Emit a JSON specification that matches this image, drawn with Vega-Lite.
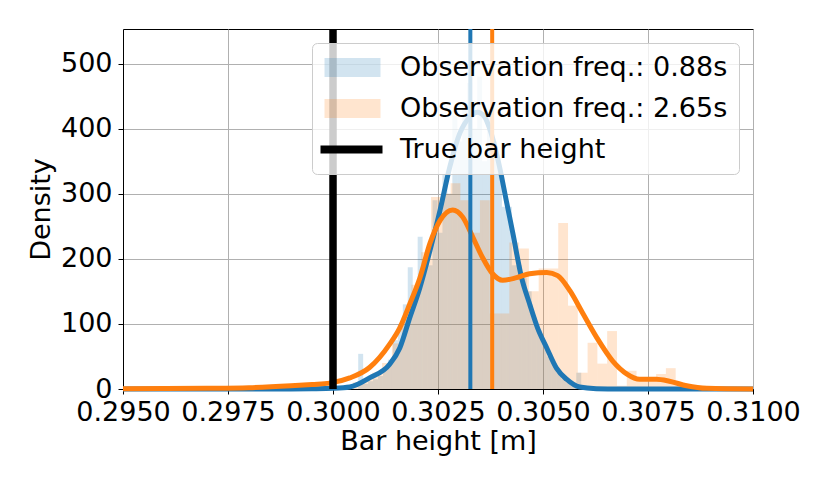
{
  "$schema": "https://vega.github.io/schema/vega-lite/v6.json",
  "width": 630,
  "height": 360,
  "autosize": {"type": "none"},
  "padding": {"left": 123, "top": 29, "right": 77, "bottom": 100},
  "background": "white",
  "datasets": {
    "hist": [
      {"series": "Observation freq.: 0.88s", "start": 0.300600, "end": 0.300718, "density": 54},
      {"series": "Observation freq.: 0.88s", "start": 0.300718, "end": 0.300836, "density": 8},
      {"series": "Observation freq.: 0.88s", "start": 0.300836, "end": 0.300954, "density": 12},
      {"series": "Observation freq.: 0.88s", "start": 0.300954, "end": 0.301072, "density": 15},
      {"series": "Observation freq.: 0.88s", "start": 0.301072, "end": 0.301190, "density": 20},
      {"series": "Observation freq.: 0.88s", "start": 0.301190, "end": 0.301308, "density": 30},
      {"series": "Observation freq.: 0.88s", "start": 0.301308, "end": 0.301426, "density": 45},
      {"series": "Observation freq.: 0.88s", "start": 0.301426, "end": 0.301544, "density": 75},
      {"series": "Observation freq.: 0.88s", "start": 0.301544, "end": 0.301662, "density": 100},
      {"series": "Observation freq.: 0.88s", "start": 0.301662, "end": 0.301780, "density": 130},
      {"series": "Observation freq.: 0.88s", "start": 0.301780, "end": 0.301898, "density": 187},
      {"series": "Observation freq.: 0.88s", "start": 0.301898, "end": 0.302016, "density": 150},
      {"series": "Observation freq.: 0.88s", "start": 0.302016, "end": 0.302134, "density": 234},
      {"series": "Observation freq.: 0.88s", "start": 0.302134, "end": 0.302252, "density": 200},
      {"series": "Observation freq.: 0.88s", "start": 0.302252, "end": 0.302370, "density": 190},
      {"series": "Observation freq.: 0.88s", "start": 0.302370, "end": 0.302488, "density": 290},
      {"series": "Observation freq.: 0.88s", "start": 0.302488, "end": 0.302606, "density": 240},
      {"series": "Observation freq.: 0.88s", "start": 0.302606, "end": 0.302724, "density": 330},
      {"series": "Observation freq.: 0.88s", "start": 0.302724, "end": 0.302842, "density": 300},
      {"series": "Observation freq.: 0.88s", "start": 0.302842, "end": 0.302960, "density": 420},
      {"series": "Observation freq.: 0.88s", "start": 0.302960, "end": 0.303078, "density": 380},
      {"series": "Observation freq.: 0.88s", "start": 0.303078, "end": 0.303196, "density": 440},
      {"series": "Observation freq.: 0.88s", "start": 0.303196, "end": 0.303314, "density": 470},
      {"series": "Observation freq.: 0.88s", "start": 0.303314, "end": 0.303432, "density": 400},
      {"series": "Observation freq.: 0.88s", "start": 0.303432, "end": 0.303550, "density": 480},
      {"series": "Observation freq.: 0.88s", "start": 0.303550, "end": 0.303668, "density": 350},
      {"series": "Observation freq.: 0.88s", "start": 0.303668, "end": 0.303786, "density": 420},
      {"series": "Observation freq.: 0.88s", "start": 0.303786, "end": 0.303904, "density": 380},
      {"series": "Observation freq.: 0.88s", "start": 0.303904, "end": 0.304022, "density": 340},
      {"series": "Observation freq.: 0.88s", "start": 0.304022, "end": 0.304140, "density": 280},
      {"series": "Observation freq.: 0.88s", "start": 0.304140, "end": 0.304258, "density": 280},
      {"series": "Observation freq.: 0.88s", "start": 0.304258, "end": 0.304376, "density": 190},
      {"series": "Observation freq.: 0.88s", "start": 0.304376, "end": 0.304494, "density": 190},
      {"series": "Observation freq.: 0.88s", "start": 0.304494, "end": 0.304612, "density": 170},
      {"series": "Observation freq.: 0.88s", "start": 0.304612, "end": 0.304730, "density": 150},
      {"series": "Observation freq.: 0.88s", "start": 0.304730, "end": 0.304848, "density": 110},
      {"series": "Observation freq.: 0.88s", "start": 0.304848, "end": 0.304966, "density": 90},
      {"series": "Observation freq.: 0.88s", "start": 0.304966, "end": 0.305084, "density": 70},
      {"series": "Observation freq.: 0.88s", "start": 0.305084, "end": 0.305202, "density": 50},
      {"series": "Observation freq.: 0.88s", "start": 0.305202, "end": 0.305320, "density": 40},
      {"series": "Observation freq.: 0.88s", "start": 0.305320, "end": 0.305438, "density": 25},
      {"series": "Observation freq.: 0.88s", "start": 0.305438, "end": 0.305556, "density": 15},
      {"series": "Observation freq.: 0.88s", "start": 0.305556, "end": 0.305674, "density": 10},
      {"series": "Observation freq.: 0.88s", "start": 0.305674, "end": 0.305792, "density": 5},
      {"series": "Observation freq.: 0.88s", "start": 0.305792, "end": 0.305910, "density": 25},
      {"series": "Observation freq.: 0.88s", "start": 0.305910, "end": 0.306028, "density": 3},
      {"series": "Observation freq.: 2.65s", "start": 0.300470, "end": 0.300703, "density": 10},
      {"series": "Observation freq.: 2.65s", "start": 0.300703, "end": 0.300936, "density": 15},
      {"series": "Observation freq.: 2.65s", "start": 0.300936, "end": 0.301169, "density": 25},
      {"series": "Observation freq.: 2.65s", "start": 0.301169, "end": 0.301402, "density": 40},
      {"series": "Observation freq.: 2.65s", "start": 0.301402, "end": 0.301635, "density": 70},
      {"series": "Observation freq.: 2.65s", "start": 0.301635, "end": 0.301868, "density": 110},
      {"series": "Observation freq.: 2.65s", "start": 0.301868, "end": 0.302101, "density": 160},
      {"series": "Observation freq.: 2.65s", "start": 0.302101, "end": 0.302334, "density": 210},
      {"series": "Observation freq.: 2.65s", "start": 0.302334, "end": 0.302567, "density": 295},
      {"series": "Observation freq.: 2.65s", "start": 0.302567, "end": 0.302800, "density": 300},
      {"series": "Observation freq.: 2.65s", "start": 0.302800, "end": 0.303033, "density": 316},
      {"series": "Observation freq.: 2.65s", "start": 0.303033, "end": 0.303266, "density": 290},
      {"series": "Observation freq.: 2.65s", "start": 0.303266, "end": 0.303499, "density": 240},
      {"series": "Observation freq.: 2.65s", "start": 0.303499, "end": 0.303732, "density": 290},
      {"series": "Observation freq.: 2.65s", "start": 0.303732, "end": 0.303965, "density": 116},
      {"series": "Observation freq.: 2.65s", "start": 0.303965, "end": 0.304198, "density": 116},
      {"series": "Observation freq.: 2.65s", "start": 0.304198, "end": 0.304431, "density": 225},
      {"series": "Observation freq.: 2.65s", "start": 0.304431, "end": 0.304664, "density": 216},
      {"series": "Observation freq.: 2.65s", "start": 0.304664, "end": 0.304897, "density": 150},
      {"series": "Observation freq.: 2.65s", "start": 0.304897, "end": 0.305130, "density": 185},
      {"series": "Observation freq.: 2.65s", "start": 0.305130, "end": 0.305363, "density": 185},
      {"series": "Observation freq.: 2.65s", "start": 0.305363, "end": 0.305596, "density": 255},
      {"series": "Observation freq.: 2.65s", "start": 0.305596, "end": 0.305829, "density": 128},
      {"series": "Observation freq.: 2.65s", "start": 0.305829, "end": 0.306062, "density": 25},
      {"series": "Observation freq.: 2.65s", "start": 0.306062, "end": 0.306295, "density": 71},
      {"series": "Observation freq.: 2.65s", "start": 0.306295, "end": 0.306528, "density": 39},
      {"series": "Observation freq.: 2.65s", "start": 0.306528, "end": 0.306761, "density": 89},
      {"series": "Observation freq.: 2.65s", "start": 0.306761, "end": 0.306994, "density": 5},
      {"series": "Observation freq.: 2.65s", "start": 0.306994, "end": 0.307227, "density": 28},
      {"series": "Observation freq.: 2.65s", "start": 0.307227, "end": 0.307460, "density": 12},
      {"series": "Observation freq.: 2.65s", "start": 0.307460, "end": 0.307693, "density": 12},
      {"series": "Observation freq.: 2.65s", "start": 0.307693, "end": 0.307926, "density": 23},
      {"series": "Observation freq.: 2.65s", "start": 0.307926, "end": 0.308159, "density": 32},
      {"series": "Observation freq.: 2.65s", "start": 0.308159, "end": 0.308392, "density": 6}
    ],
    "kde": [
      {"series": "fast", "x": 0.2950, "density": 0},
      {"series": "fast", "x": 0.2990, "density": 0},
      {"series": "fast", "x": 0.2995, "density": 0.3},
      {"series": "fast", "x": 0.3000, "density": 1},
      {"series": "fast", "x": 0.3004, "density": 3},
      {"series": "fast", "x": 0.30087, "density": 17},
      {"series": "fast", "x": 0.30135, "density": 38},
      {"series": "fast", "x": 0.30159, "density": 63},
      {"series": "fast", "x": 0.30183, "density": 110},
      {"series": "fast", "x": 0.30207, "density": 156},
      {"series": "fast", "x": 0.30231, "density": 213},
      {"series": "fast", "x": 0.30255, "density": 275},
      {"series": "fast", "x": 0.30278, "density": 341},
      {"series": "fast", "x": 0.30302, "density": 393},
      {"series": "fast", "x": 0.30326, "density": 418},
      {"series": "fast", "x": 0.30344, "density": 425},
      {"series": "fast", "x": 0.30361, "density": 418},
      {"series": "fast", "x": 0.30373, "density": 400},
      {"series": "fast", "x": 0.30397, "density": 340},
      {"series": "fast", "x": 0.30413, "density": 288},
      {"series": "fast", "x": 0.30428, "density": 240},
      {"series": "fast", "x": 0.30449, "density": 171},
      {"series": "fast", "x": 0.30468, "density": 131},
      {"series": "fast", "x": 0.30487, "density": 94},
      {"series": "fast", "x": 0.30509, "density": 63},
      {"series": "fast", "x": 0.30532, "density": 32},
      {"series": "fast", "x": 0.30556, "density": 15},
      {"series": "fast", "x": 0.30587, "density": 3},
      {"series": "fast", "x": 0.30627, "density": 0.5},
      {"series": "fast", "x": 0.30682, "density": 0},
      {"series": "fast", "x": 0.3100, "density": 0},
      {"series": "slow", "x": 0.2950, "density": 0.3},
      {"series": "slow", "x": 0.2970, "density": 1},
      {"series": "slow", "x": 0.2980, "density": 2},
      {"series": "slow", "x": 0.2990, "density": 5},
      {"series": "slow", "x": 0.2995, "density": 7},
      {"series": "slow", "x": 0.29992, "density": 9},
      {"series": "slow", "x": 0.3004, "density": 17},
      {"series": "slow", "x": 0.30087, "density": 33},
      {"series": "slow", "x": 0.30135, "density": 69},
      {"series": "slow", "x": 0.30159, "density": 94},
      {"series": "slow", "x": 0.30183, "density": 131},
      {"series": "slow", "x": 0.30207, "density": 171},
      {"series": "slow", "x": 0.30231, "density": 224},
      {"series": "slow", "x": 0.30255, "density": 259},
      {"series": "slow", "x": 0.30285, "density": 275},
      {"series": "slow", "x": 0.30309, "density": 264},
      {"series": "slow", "x": 0.30333, "density": 233},
      {"series": "slow", "x": 0.30356, "density": 202},
      {"series": "slow", "x": 0.3038, "density": 177},
      {"series": "slow", "x": 0.30404, "density": 167},
      {"series": "slow", "x": 0.30437, "density": 171},
      {"series": "slow", "x": 0.30468, "density": 177},
      {"series": "slow", "x": 0.30509, "density": 179},
      {"series": "slow", "x": 0.30535, "density": 174},
      {"series": "slow", "x": 0.30564, "density": 151},
      {"series": "slow", "x": 0.30595, "density": 116},
      {"series": "slow", "x": 0.30628, "density": 79},
      {"series": "slow", "x": 0.30666, "density": 43},
      {"series": "slow", "x": 0.307, "density": 23},
      {"series": "slow", "x": 0.3073, "density": 15},
      {"series": "slow", "x": 0.3077, "density": 15},
      {"series": "slow", "x": 0.30801, "density": 12},
      {"series": "slow", "x": 0.30842, "density": 5},
      {"series": "slow", "x": 0.3089, "density": 1},
      {"series": "slow", "x": 0.3100, "density": 0}
    ],
    "marks": [
      {"series": "Observation freq.: 0.88s", "x": 0.30327},
      {"series": "Observation freq.: 2.65s", "x": 0.30379},
      {"series": "True bar height", "x": 0.3}
    ]
  },
  "layer": [
    {
      "data": {"name": "hist"},
      "mark": {"type": "bar"},
      "encoding": {
        "x": {
          "field": "start",
          "type": "quantitative",
          "scale": {"domain": [0.295, 0.31], "nice": false, "zero": false},
          "axis": {
            "title": "Bar height [m]",
            "values": [0.295, 0.2975, 0.3, 0.3025, 0.305, 0.3075, 0.31],
            "format": ".4f",
            "labelPadding": 5,
            "titlePadding": 3
          }
        },
        "x2": {"field": "end"},
        "y": {
          "field": "density",
          "type": "quantitative",
          "scale": {"domain": [0, 553], "nice": false},
          "axis": {
            "title": "Density",
            "values": [0, 100, 200, 300, 400, 500],
            "labelPadding": 6,
            "titlePadding": 5
          }
        },
        "y2": {"datum": 0},
        "color": {
          "field": "series",
          "type": "nominal",
          "scale": {
            "domain": ["Observation freq.: 0.88s", "Observation freq.: 2.65s", "True bar height"],
            "range": ["rgba(31,119,180,0.2)", "rgba(255,127,14,0.2)", "#000000"]
          },
          "legend": {"title": null, "zindex": 1}
        }
      }
    },
    {
      "data": {"name": "marks"},
      "mark": {"type": "point", "filled": true, "opacity": 0},
      "encoding": {
        "x": {"field": "x", "type": "quantitative"},
        "y": {"datum": 0},
        "color": {"field": "series", "type": "nominal", "legend": {"title": null, "zindex": 1}},
        "shape": {
          "field": "series",
          "type": "nominal",
          "scale": {
            "domain": ["Observation freq.: 0.88s", "Observation freq.: 2.65s", "True bar height"],
            "range": ["M-1.2,-0.95H4.4V0.95H-1.2Z", "M-1.2,-0.95H4.4V0.95H-1.2Z", "M-1.6,-0.4H4.6V0.4H-1.6Z"]
          },
          "legend": {"title": null, "zindex": 1}
        }
      }
    },
    {
      "data": {"name": "kde"},
      "transform": [{"filter": "datum.series === 'fast'"}],
      "mark": {"type": "line", "color": "#1f77b4", "strokeWidth": 5, "interpolate": "monotone"},
      "encoding": {
        "x": {"field": "x", "type": "quantitative"},
        "y": {"field": "density", "type": "quantitative"}
      }
    },
    {
      "data": {"name": "kde"},
      "transform": [{"filter": "datum.series === 'slow'"}],
      "mark": {"type": "line", "color": "#ff7f0e", "strokeWidth": 5, "interpolate": "monotone"},
      "encoding": {
        "x": {"field": "x", "type": "quantitative"},
        "y": {"field": "density", "type": "quantitative"}
      }
    },
    {
      "data": {"name": "marks"},
      "transform": [{"filter": "datum.series === 'Observation freq.: 0.88s'"}],
      "mark": {"type": "rule", "color": "#1f77b4", "strokeWidth": 4},
      "encoding": {"x": {"field": "x", "type": "quantitative"}}
    },
    {
      "data": {"name": "marks"},
      "transform": [{"filter": "datum.series === 'Observation freq.: 2.65s'"}],
      "mark": {"type": "rule", "color": "#ff7f0e", "strokeWidth": 4},
      "encoding": {"x": {"field": "x", "type": "quantitative"}}
    },
    {
      "data": {"name": "marks"},
      "transform": [{"filter": "datum.series === 'True bar height'"}],
      "mark": {"type": "rule", "color": "#000000", "strokeWidth": 7.5},
      "encoding": {"x": {"field": "x", "type": "quantitative"}}
    }
  ],
  "config": {
    "font": "DejaVu Sans",
    "view": {"stroke": "black", "strokeWidth": 1},
    "axis": {
      "labelFont": "DejaVu Sans",
      "titleFont": "DejaVu Sans",
      "labelFontSize": 27,
      "titleFontSize": 27,
      "titleFontWeight": "normal",
      "labelColor": "black",
      "titleColor": "black",
      "domainColor": "black",
      "tickColor": "black",
      "tickSize": 5,
      "grid": true,
      "gridColor": "#b0b0b0",
      "gridWidth": 1,
      "labelFlush": false,
      "labelOverlap": false,
      "labelBound": false
    },
    "legend": {
      "orient": "top-right",
      "offset": 14,
      "zindex": 1,
      "padding": 11,
      "rowPadding": 13,
      "symbolSize": 400,
      "symbolStrokeWidth": 0,
      "symbolOpacity": 1,
      "labelOffset": 50,
      "labelLimit": 500,
      "labelFontSize": 27,
      "labelFont": "DejaVu Sans",
      "labelColor": "black",
      "fillColor": "rgba(255,255,255,0.8)",
      "strokeColor": "#cccccc",
      "cornerRadius": 5
    }
  }
}
